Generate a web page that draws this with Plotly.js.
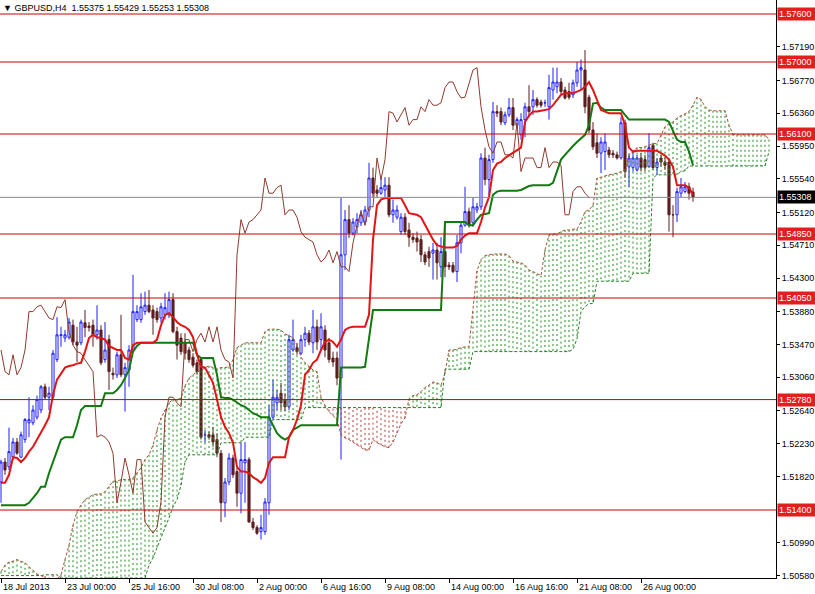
<!DOCTYPE html>
<html><head><meta charset="utf-8">
<script src="https://cdn.plot.ly/plotly-3.0.1.min.js"></script>
<style>html,body{margin:0;padding:0;background:#fff}#chart{width:815px;height:594px}</style>
</head><body><div id="chart"></div>
<script>
const symbol = "GBPUSD,H4";
const xTickBars = [0,16,32,48,64,80,96,112,128,144,160];
const xTickLabels = ["18 Jul 2013","23 Jul 00:00","25 Jul 16:00","30 Jul 08:00","2 Aug 00:00","6 Aug 16:00","9 Aug 08:00","14 Aug 00:00","16 Aug 16:00","21 Aug 08:00","26 Aug 00:00"];
const yTickValues = [1.5719,1.5677,1.5636,1.5595,1.5554,1.5512,1.5471,1.5430,1.5388,1.5347,1.5306,1.5264,1.5223,1.5182,1.5099,1.5058];
const levels = [1.576,1.570,1.561,1.5485,1.5405,1.5278,1.514];

const open = [1.5175,1.5200,1.5194,1.5206,1.5225,1.5206,1.5228,1.5249,1.5249,1.5256,
1.5265,1.5294,1.5281,1.5281,1.5328,1.5358,1.5355,1.5356,1.5371,1.5350,
1.5349,1.5374,1.5370,1.5371,1.5359,1.5365,1.5328,1.5353,1.5311,1.5309,
1.5334,1.5309,1.5315,1.5340,1.5378,1.5378,1.5388,1.5396,1.5390,1.5388,
1.5380,1.5384,1.5384,1.5403,1.5363,1.5355,1.5349,1.5340,1.5331,1.5324,
1.5328,1.5234,1.5234,1.5234,1.5228,1.5211,1.5149,1.5175,1.5205,1.5188,
1.5161,1.5199,1.5203,1.5125,1.5118,1.5113,1.5113,1.5149,1.5256,1.5274,
1.5286,1.5278,1.5269,1.5340,1.5343,1.5336,1.5353,1.5361,1.5349,1.5369,
1.5353,1.5365,1.5349,1.5330,1.5330,1.5305,1.5459,1.5503,1.5486,1.5494,
1.5499,1.5500,1.5515,1.5555,1.5540,1.5536,1.5540,1.5546,1.5509,1.5506,
1.5488,1.5506,1.5490,1.5481,1.5480,1.5478,1.5459,1.5463,1.5461,1.5465,
1.5444,1.5463,1.5446,1.5446,1.5438,1.5474,1.5496,1.5513,1.5499,1.5515,
1.5519,1.5580,1.5553,1.5578,1.5638,1.5638,1.5624,1.5634,1.5643,1.5621,
1.5609,1.5628,1.5644,1.5644,1.5653,1.5650,1.5649,1.5644,1.5665,1.5669,
1.5675,1.5665,1.5663,1.5659,1.5674,1.5690,1.5690,1.5656,1.5615,1.5599,
1.5586,1.5588,1.5590,1.5586,1.5584,1.5580,1.5624,1.5569,1.5568,1.5565,
1.5580,1.5578,1.5569,1.5596,1.5568,1.5580,1.5575,1.5575,1.5509,1.5509,
1.5536,1.5538,1.5544,1.55375];
const high = [1.5203,1.5205,1.5243,1.5230,1.5230,1.5238,1.5255,1.5281,1.5271,1.5283,
1.5296,1.5298,1.5294,1.5340,1.5381,1.5369,1.5365,1.5380,1.5378,1.5369,
1.5378,1.5390,1.5375,1.5378,1.5396,1.5371,1.5375,1.5359,1.5318,1.5338,
1.5384,1.5324,1.5346,1.5434,1.5396,1.5411,1.5413,1.5415,1.5396,1.5393,
1.5399,1.5411,1.5413,1.5411,1.5369,1.5361,1.5361,1.5344,1.5336,1.5328,
1.5331,1.5240,1.5238,1.5244,1.5236,1.5215,1.5180,1.5211,1.5209,1.5193,
1.5224,1.5225,1.5206,1.5130,1.5121,1.5134,1.5155,1.5271,1.5303,1.5290,
1.5299,1.5286,1.5359,1.5378,1.5349,1.5359,1.5369,1.5365,1.5390,1.5378,
1.5386,1.5371,1.5355,1.5338,1.5338,1.5530,1.5515,1.5521,1.5505,1.5511,
1.5515,1.5520,1.5574,1.5568,1.5546,1.5556,1.5556,1.5556,1.5528,1.5521,
1.5511,1.5511,1.5499,1.5486,1.5488,1.5484,1.5463,1.5469,1.5474,1.5474,
1.5481,1.5499,1.5450,1.5450,1.5484,1.5499,1.5544,1.5518,1.5531,1.5524,
1.5586,1.5593,1.5584,1.5650,1.5646,1.5643,1.5638,1.5655,1.5655,1.5631,
1.5636,1.5649,1.5671,1.5665,1.5656,1.5653,1.5653,1.5684,1.5693,1.5693,
1.5680,1.5669,1.5674,1.5678,1.5700,1.5703,1.5715,1.5659,1.5625,1.5611,
1.5606,1.5611,1.5594,1.5590,1.5588,1.5631,1.5628,1.5586,1.5590,1.5584,
1.5586,1.5584,1.5611,1.5599,1.5580,1.5584,1.5581,1.5580,1.5521,1.5543,
1.5555,1.5550,1.5549,1.55429];
const low = [1.5149,1.5184,1.5190,1.5203,1.5209,1.5205,1.5224,1.5231,1.5246,1.5253,
1.5261,1.5278,1.5265,1.5278,1.5325,1.5344,1.5350,1.5353,1.5346,1.5325,
1.5346,1.5356,1.5363,1.5344,1.5353,1.5321,1.5324,1.5290,1.5303,1.5305,
1.5306,1.5263,1.5294,1.5338,1.5375,1.5374,1.5384,1.5386,1.5359,1.5374,
1.5374,1.5378,1.5380,1.5361,1.5328,1.5334,1.5328,1.5324,1.5318,1.5309,
1.5228,1.5224,1.5228,1.5219,1.5206,1.5125,1.5131,1.5171,1.5180,1.5144,
1.5136,1.5149,1.5124,1.5115,1.5109,1.5103,1.5109,1.5134,1.5253,1.5265,
1.5265,1.5263,1.5265,1.5338,1.5334,1.5334,1.5344,1.5346,1.5336,1.5340,
1.5340,1.5331,1.5324,1.5319,1.5296,1.5203,1.5440,1.5480,1.5483,1.5486,
1.5495,1.5496,1.5506,1.5531,1.5531,1.5534,1.5531,1.5506,1.5499,1.5503,
1.5484,1.5484,1.5469,1.5474,1.5463,1.5450,1.5446,1.5444,1.5428,1.5428,
1.5431,1.5431,1.5440,1.5436,1.5425,1.5461,1.5494,1.5493,1.5494,1.5511,
1.5515,1.5546,1.5534,1.5574,1.5631,1.5621,1.5621,1.5631,1.5615,1.5618,
1.5603,1.5606,1.5631,1.5634,1.5643,1.5643,1.5644,1.5628,1.5653,1.5661,
1.5659,1.5653,1.5653,1.5655,1.5669,1.5665,1.5636,1.5611,1.5590,1.5580,
1.5561,1.5565,1.5580,1.5580,1.5578,1.5578,1.5555,1.5544,1.5563,1.5563,
1.5563,1.5563,1.5568,1.5565,1.5559,1.5569,1.5565,1.5488,1.5481,1.5500,
1.5531,1.5536,1.5528,1.55253];
const close = [1.5200,1.5190,1.5213,1.5225,1.5211,1.5234,1.5253,1.5253,1.5265,1.5278,
1.5294,1.5281,1.5286,1.5336,1.5359,1.5359,1.5359,1.5375,1.5350,1.5346,
1.5375,1.5368,1.5368,1.5359,1.5365,1.5324,1.5340,1.5313,1.5309,1.5334,
1.5309,1.5318,1.5340,1.5388,1.5388,1.5394,1.5396,1.5388,1.5380,1.5378,
1.5394,1.5393,1.5403,1.5363,1.5346,1.5338,1.5336,1.5328,1.5321,1.5313,
1.5231,1.5234,1.5231,1.5225,1.5211,1.5149,1.5175,1.5205,1.5184,1.5161,
1.5203,1.5203,1.5125,1.5118,1.5111,1.5118,1.5150,1.5256,1.5281,1.5281,
1.5274,1.5269,1.5353,1.5353,1.5338,1.5353,1.5361,1.5350,1.5369,1.5350,
1.5369,1.5340,1.5328,1.5325,1.5305,1.5459,1.5503,1.5486,1.5500,1.5503,
1.5509,1.5515,1.5555,1.5536,1.5536,1.5543,1.5546,1.5509,1.5515,1.5515,
1.5506,1.5488,1.5481,1.5478,1.5475,1.5459,1.5450,1.5455,1.5465,1.5449,
1.5463,1.5444,1.5444,1.5438,1.5474,1.5496,1.5513,1.5496,1.5519,1.5519,
1.5580,1.5553,1.5578,1.5638,1.5636,1.5625,1.5634,1.5643,1.5621,1.5628,
1.5628,1.5644,1.5638,1.5653,1.5646,1.5646,1.5649,1.5668,1.5675,1.5675,
1.5663,1.5655,1.5656,1.5674,1.5690,1.5693,1.5644,1.5615,1.5594,1.5586,
1.5600,1.5600,1.5584,1.5584,1.5580,1.5624,1.5563,1.5580,1.5580,1.5580,
1.5568,1.5568,1.5593,1.5568,1.5575,1.5575,1.5571,1.5509,1.5509,1.5538,
1.5544,1.5544,1.5536,1.55308];

const tenkan = [1.5174,1.5174,1.5184,1.5206,1.5205,1.5200,1.5205,1.5213,1.5219,1.5228,
1.5236,1.5246,1.5256,1.5284,1.5303,1.5310,1.5318,1.5320,1.5321,1.5323,
1.5324,1.5338,1.5355,1.5359,1.5356,1.5355,1.5353,1.5345,1.5343,1.5340,
1.5340,1.5330,1.5328,1.5346,1.5349,1.5349,1.5349,1.5349,1.5349,1.5353,
1.5371,1.5384,1.5386,1.5381,1.5375,1.5371,1.5369,1.5365,1.5356,1.5334,
1.5319,1.5318,1.5309,1.5299,1.5278,1.5256,1.5244,1.5236,1.5224,1.5194,
1.5188,1.5188,1.5186,1.5181,1.5178,1.5174,1.5180,1.5199,1.5206,1.5206,
1.5206,1.5206,1.5231,1.5240,1.5253,1.5271,1.5309,1.5315,1.5324,1.5328,
1.5340,1.5350,1.5353,1.5350,1.5344,1.5353,1.5365,1.5368,1.5369,1.5369,
1.5369,1.5369,1.5384,1.5478,1.5521,1.5528,1.5530,1.5530,1.5530,1.5530,
1.5530,1.5521,1.5511,1.5510,1.5509,1.5506,1.5496,1.5488,1.5478,1.5471,
1.5469,1.5468,1.5468,1.5468,1.5470,1.5478,1.5483,1.5486,1.5486,1.5486,
1.5500,1.5518,1.5531,1.5565,1.5573,1.5575,1.5580,1.5583,1.5586,1.5589,
1.5593,1.5625,1.5633,1.5638,1.5638,1.5639,1.5640,1.5641,1.5646,1.5653,
1.5659,1.5661,1.5661,1.5661,1.5663,1.5665,1.5669,1.5675,1.5665,1.5653,
1.5640,1.5638,1.5636,1.5636,1.5636,1.5636,1.5621,1.5593,1.5588,1.5589,
1.5589,1.5589,1.5589,1.5589,1.5589,1.5586,1.5583,1.5578,1.5569,1.5546,
1.5546,1.5546,1.5543,1.5534];
const kijun = [1.5146,1.5146,1.5146,1.5146,1.5146,1.5146,1.5146,1.5149,1.5155,1.5161,
1.5169,1.5169,1.5186,1.5200,1.5215,1.5228,1.5231,1.5231,1.5231,1.5246,
1.5265,1.5270,1.5270,1.5270,1.5270,1.5270,1.5286,1.5286,1.5286,1.5290,
1.5296,1.5305,1.5315,1.5338,1.5345,1.5349,1.5349,1.5349,1.5349,1.5349,
1.5349,1.5349,1.5349,1.5349,1.5349,1.5349,1.5349,1.5349,1.5349,1.5334,
1.5330,1.5330,1.5330,1.5330,1.5309,1.5281,1.5280,1.5280,1.5278,1.5274,
1.5271,1.5269,1.5265,1.5261,1.5259,1.5256,1.5256,1.5256,1.5246,1.5236,
1.5231,1.5228,1.5231,1.5240,1.5243,1.5246,1.5246,1.5246,1.5246,1.5246,
1.5246,1.5246,1.5246,1.5246,1.5246,1.5318,1.5318,1.5318,1.5318,1.5318,
1.5318,1.5319,1.5353,1.5390,1.5390,1.5390,1.5390,1.5390,1.5390,1.5390,
1.5390,1.5390,1.5390,1.5390,1.5390,1.5390,1.5390,1.5390,1.5390,1.5390,
1.5390,1.5500,1.5500,1.5500,1.5500,1.5500,1.5500,1.5496,1.5496,1.5503,
1.5509,1.5510,1.5511,1.5534,1.5538,1.5539,1.5539,1.5539,1.5539,1.5539,
1.5540,1.5543,1.5545,1.5546,1.5546,1.5546,1.5546,1.5546,1.5549,1.5563,
1.5578,1.5584,1.5590,1.5595,1.5600,1.5604,1.5609,1.5621,1.5648,1.5649,
1.5643,1.5640,1.5640,1.5640,1.5640,1.5640,1.5634,1.5628,1.5628,1.5628,
1.5628,1.5628,1.5628,1.5628,1.5628,1.5628,1.5628,1.5625,1.5615,1.5603,
1.5600,1.5600,1.5588,1.5571];
const spanA = [1.5063,1.5071,1.5075,1.5076,1.5078,1.5076,1.5074,1.5069,1.5064,1.5060,
1.5058,1.5055,1.5053,1.5050,1.5053,1.5059,1.5078,1.5096,1.5121,1.5138,
1.5146,1.5153,1.5156,1.5159,1.5160,1.5160,1.5163,1.5169,1.5176,1.5176,
1.5178,1.5178,1.5178,1.5180,1.5186,1.5193,1.5203,1.5209,1.5221,1.5240,
1.5255,1.5265,1.5274,1.5278,1.5278,1.5280,1.5295,1.5305,1.5309,1.5313,
1.5314,1.5318,1.5320,1.5318,1.5316,1.5318,1.5318,1.5319,1.5328,1.5343,
1.5346,1.5349,1.5349,1.5349,1.5349,1.5349,1.5363,1.5366,1.5366,1.5366,
1.5365,1.5360,1.5358,1.5355,1.5346,1.5331,1.5324,1.5320,1.5315,1.5313,
1.5281,1.5271,1.5263,1.5258,1.5253,1.5234,1.5230,1.5228,1.5225,1.5221,
1.5219,1.5215,1.5215,1.5228,1.5224,1.5221,1.5219,1.5218,1.5225,1.5236,
1.5248,1.5255,1.5279,1.5283,1.5284,1.5288,1.5293,1.5296,1.5300,1.5299,
1.5296,1.5311,1.5340,1.5340,1.5341,1.5343,1.5344,1.5344,1.5388,1.5439,
1.5453,1.5458,1.5459,1.5460,1.5460,1.5460,1.5460,1.5458,1.5451,1.5450,
1.5449,1.5446,1.5440,1.5438,1.5435,1.5433,1.5465,1.5484,1.5485,1.5485,
1.5488,1.5490,1.5490,1.5491,1.5491,1.5500,1.5513,1.5515,1.5521,1.5555,
1.5556,1.5558,1.5559,1.5560,1.5561,1.5563,1.5565,1.5583,1.5588,1.5593,
1.5593,1.5594,1.5596,1.5598,1.5598,1.5609,1.5619,1.5623,1.5625,1.5630,
1.5633,1.5635,1.5638,1.5646,1.5656,1.5653,1.5644,1.5640,1.5639,1.5639,
1.5639,1.5639,1.5621,1.5610,1.5609,1.5609,1.5609,1.5609,1.5609,1.5609,
1.5609,1.5609,1.5603];
const spanB = [1.5058,1.5058,1.5058,1.5058,1.5058,1.5058,1.5058,1.5058,1.5058,1.5058,
1.5058,1.5059,1.5059,1.5059,1.5059,1.5055,1.5055,1.5055,1.5055,1.5055,
1.5055,1.5055,1.5055,1.5055,1.5055,1.5055,1.5055,1.5055,1.5055,1.5055,
1.5055,1.5055,1.5055,1.5055,1.5055,1.5055,1.5055,1.5071,1.5080,1.5093,
1.5105,1.5118,1.5130,1.5144,1.5153,1.5171,1.5200,1.5209,1.5209,1.5209,
1.5209,1.5209,1.5209,1.5209,1.5209,1.5224,1.5224,1.5224,1.5224,1.5224,
1.5224,1.5231,1.5231,1.5231,1.5231,1.5231,1.5231,1.5231,1.5253,1.5253,
1.5253,1.5253,1.5253,1.5253,1.5253,1.5253,1.5268,1.5268,1.5268,1.5268,
1.5268,1.5268,1.5268,1.5268,1.5268,1.5268,1.5268,1.5268,1.5268,1.5268,
1.5268,1.5268,1.5268,1.5268,1.5268,1.5268,1.5268,1.5268,1.5268,1.5268,
1.5268,1.5268,1.5268,1.5268,1.5268,1.5268,1.5268,1.5268,1.5268,1.5268,
1.5268,1.5316,1.5316,1.5316,1.5316,1.5316,1.5316,1.5316,1.5338,1.5338,
1.5338,1.5338,1.5338,1.5338,1.5338,1.5338,1.5338,1.5338,1.5338,1.5338,
1.5338,1.5338,1.5338,1.5338,1.5338,1.5338,1.5338,1.5338,1.5338,1.5338,
1.5338,1.5338,1.5338,1.5341,1.5354,1.5388,1.5394,1.5398,1.5398,1.5426,
1.5426,1.5426,1.5426,1.5426,1.5426,1.5426,1.5426,1.5426,1.5436,1.5436,
1.5436,1.5436,1.5436,1.5555,1.5559,1.5559,1.5559,1.5559,1.5559,1.5559,
1.5563,1.5564,1.5570,1.5570,1.5570,1.5570,1.5570,1.5570,1.5570,1.5570,
1.5570,1.5570,1.5570,1.5570,1.5570,1.5570,1.5570,1.5570,1.5570,1.5570,
1.5570,1.5570,1.5588];

const FONT = "Liberation Sans, Arial, sans-serif";
const bars = open.map((_, i) => i);
const cloudBars = spanA.map((_, i) => i);

// Chikou span: closes drawn 26 bars back
const chikouX = [], chikouY = [];
for (let i = 26; i < close.length; i++) { chikouX.push(bars[i] - 26); chikouY.push(close[i]); }

// Cloud hatching: one dotted vertical per bar between Span A and Span B
const bullX = [], bullY = [], bearX = [], bearY = [];
spanA.forEach((a, i) => {
  const b = spanB[i];
  if (a >= b) { bullX.push(i, i, null); bullY.push(a, b, null); }
  else { bearX.push(i, i, null); bearY.push(a, b, null); }
});

const traces = [
  {type:'scatter', mode:'lines', x:bullX, y:bullY, line:{color:'#1c8c1c', width:1, dash:'2px,3px'}, hoverinfo:'skip', connectgaps:false},
  {type:'scatter', mode:'lines', x:bearX, y:bearY, line:{color:'#b03a3a', width:1, dash:'2px,3px'}, hoverinfo:'skip', connectgaps:false},
  {type:'scatter', mode:'lines', x:cloudBars, y:spanA, line:{color:'#b0503a', width:1, dash:'3px,2px'}, hoverinfo:'skip'},
  {type:'scatter', mode:'lines', x:cloudBars, y:spanB, line:{color:'#2a7d2a', width:1, dash:'3px,2px'}, hoverinfo:'skip'},
  {type:'scatter', mode:'lines', x:chikouX, y:chikouY, line:{color:'#8e3b2c', width:1}, hoverinfo:'skip'},
  {type:'candlestick', x:bars, open:open, high:high, low:low, close:close,
   increasing:{line:{color:'#1f1fff', width:1}, fillcolor:'#ffffff'},
   decreasing:{line:{color:'#5c1f1f', width:1}, fillcolor:'#5c1f1f'},
   whiskerwidth:0, hoverinfo:'skip'},
  {type:'scatter', mode:'lines', x:bars, y:kijun, line:{color:'#117a11', width:2}, hoverinfo:'skip'},
  {type:'scatter', mode:'lines', x:bars, y:tenkan, line:{color:'#e31414', width:2}, hoverinfo:'skip'}
];

const last = close.length - 1;
const shapes = levels.map(v => ({type:'line', xref:'paper', x0:0, x1:1, yref:'y', y0:v, y1:v, line:{color:'#cc0000', width:1}}));
shapes.push({type:'line', xref:'paper', x0:0, x1:1, yref:'y', y0:close[last], y1:close[last], line:{color:'#8a8a8a', width:1}});

const annotations = [];
levels.forEach(v => annotations.push({xref:'paper', x:1, xanchor:'left', xshift:1, yref:'y', y:v, yanchor:'middle',
  text:v.toFixed(5), showarrow:false, font:{family:FONT, size:9, color:'#ffffff'}, bgcolor:'#e41e1e', borderpad:1, width:36, align:'left'}));
annotations.push({xref:'paper', x:1, xanchor:'left', xshift:1, yref:'y', y:close[last], yanchor:'middle',
  text:close[last].toFixed(5), showarrow:false, font:{family:FONT, size:9, color:'#ffffff'}, bgcolor:'#000000', borderpad:1, width:36, align:'left'});
xTickBars.forEach((b, k) => annotations.push({xref:'x', x:b, xanchor:'left', xshift:0, yref:'paper', y:0, yanchor:'top', yshift:-2,
  text:xTickLabels[k], showarrow:false, font:{family:FONT, size:9, color:'#000'}}));
annotations.push({xref:'paper', x:0, xanchor:'left', xshift:1, yref:'paper', y:1, yanchor:'top', yshift:-1,
  text:'\u25BC ' + symbol + '  ' + [open[last], high[last], low[last], close[last]].map(v => v.toFixed(5)).join(' '),
  showarrow:false, font:{family:FONT, size:9, color:'#000'}});

const layout = {
  width:815, height:594, margin:{l:0, r:39, t:0, b:16, pad:0},
  paper_bgcolor:'#ffffff', plot_bgcolor:'#ffffff', showlegend:false, boxgap:0.25,
  xaxis:{range:[-0.25, 193.75], showgrid:false, zeroline:false, showline:true, linecolor:'#000', linewidth:1,
    ticks:'outside', ticklen:4, tickcolor:'#000', tickvals:xTickBars, showticklabels:false, rangeslider:{visible:false}, fixedrange:true},
  yaxis:{side:'right', range:[1.5055, 1.57775], showgrid:false, zeroline:false, showline:true, linecolor:'#000', linewidth:1,
    ticks:'outside', ticklen:3, tickcolor:'#000', tickvals:yTickValues, ticktext:yTickValues.map(v => v.toFixed(5)),
    tickfont:{family:FONT, size:9, color:'#000'}, fixedrange:true},
  shapes:shapes, annotations:annotations
};
Plotly.newPlot('chart', traces, layout, {staticPlot:true, displayModeBar:false});
</script></body></html>
